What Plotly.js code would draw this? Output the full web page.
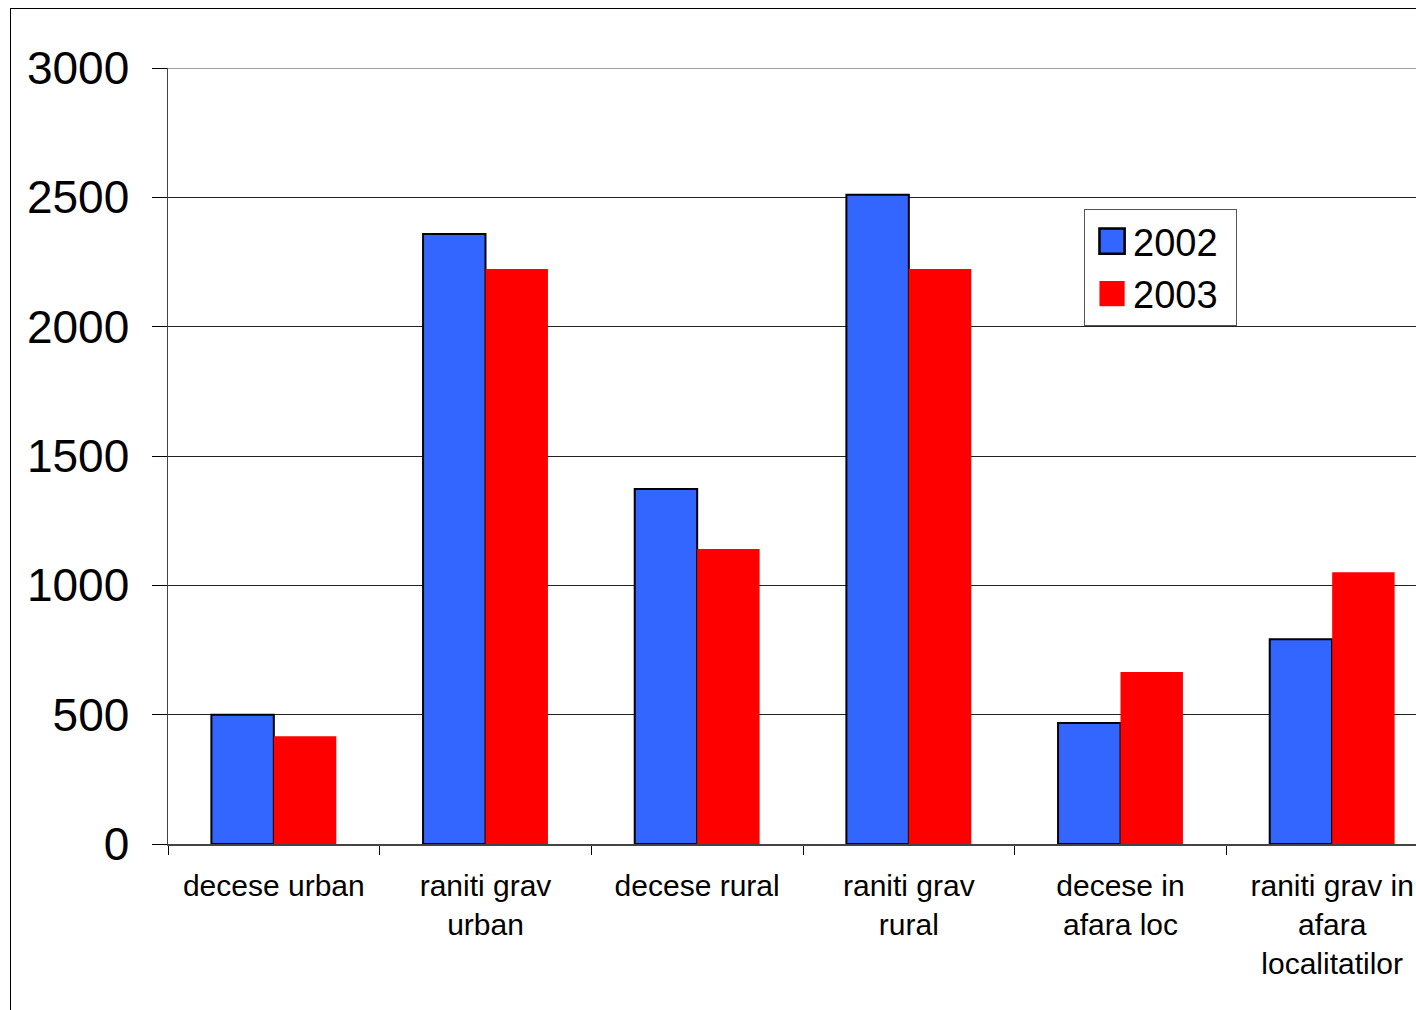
<!DOCTYPE html>
<html>
<head>
<meta charset="utf-8">
<script src="https://cdn.plot.ly/plotly-3.0.1.min.js"></script>
<style>
html,body{margin:0;padding:0;width:1416px;height:1010px;overflow:hidden;background:#fff;}
#frame{position:absolute;left:10px;top:8px;width:1500px;height:1100px;border-left:1.5px solid #000;border-top:1.5px solid #000;pointer-events:none;}
#chart{position:absolute;left:0;top:0;}
</style>
</head>
<body>
<div id="chart"></div>
<div id="frame"></div>
<script>
const categories = [
  "decese urban",
  "raniti grav<br>urban",
  "decese rural",
  "raniti grav<br>rural",
  "decese in<br>afara loc",
  "raniti grav in<br>afara<br>localitatilor"
];
const series2002 = [500, 2358, 1372, 2510, 468, 792];
const series2003 = [417, 2223, 1140, 2223, 665, 1051];
const seriesNames = ["2002", "2003"];
const yTicks = [0, 500, 1000, 1500, 2000, 2500, 3000];

const font = "Liberation Sans, Arial, sans-serif";

const traces = [
  {
    type: "bar", name: seriesNames[0], x: categories, y: series2002,
    marker: {color: "#3366FF", line: {color: "#000000", width: 2}}
  },
  {
    type: "bar", name: seriesNames[1], x: categories, y: series2003,
    marker: {color: "#FF0000", line: {color: "#FF0000", width: 0}}
  }
];

const yMax = yTicks[yTicks.length - 1];

const layout = {
  width: 1450, height: 1010,
  margin: {l: 168, r: 12, t: 68, b: 166},
  paper_bgcolor: "#ffffff", plot_bgcolor: "#ffffff",
  font: {family: font, color: "#000"},
  barmode: "group", bargap: 0.41, bargroupgap: 0,
  showlegend: true,
  legend: {
    x: 0.7213, y: 0.8183, xanchor: "left", yanchor: "top",
    bgcolor: "#ffffff", bordercolor: "#555", borderwidth: 1,
    font: {family: font, size: 38, color: "#000"},
    tracegroupgap: 0, itemwidth: 38
  },
  xaxis: {
    type: "category", range: [-0.5, 5.5],
    tickson: "boundaries", ticks: "outside", ticklen: 9, tickcolor: "#000", tickwidth: 1,
    showline: true, linecolor: "#444", linewidth: 1.5,
    showgrid: false, zeroline: false,
    tickfont: {family: font, size: 30, color: "#000"},
    ticklabelstandoff: 14,
    fixedrange: true
  },
  yaxis: {
    range: [0, yMax], tickvals: yTicks, ticktext: yTicks.map(String),
    ticks: "outside", ticklen: 15, tickcolor: "#000", tickwidth: 1,
    showline: true, linecolor: "#444", linewidth: 1.5,
    showgrid: true, gridcolor: "#222", gridwidth: 1,
    zeroline: false,
    tickfont: {family: font, size: 46, color: "#000"},
    ticklabelstandoff: 13,
    fixedrange: true
  },
  shapes: [{
    type: "line", xref: "paper", yref: "y", x0: 0, x1: 1, y0: yMax, y1: yMax,
    line: {color: "#808080", width: 1.5}, layer: "above"
  }]
};

Plotly.newPlot("chart", traces, layout, {displayModeBar: false, staticPlot: true}).then(function(gd){
  gd.querySelectorAll(".legend .legendpoints path").forEach(function(p){
    var t = p.getAttribute("transform") || "";
    p.setAttribute("transform", t + " translate(3,0) scale(2.1)");
    if (parseFloat(p.style.strokeWidth) > 0) p.style.strokeWidth = "1.2px";
  });
  var bg = gd.querySelector(".legend rect.bg");
  if (bg) {
    var w = parseFloat(bg.getAttribute("width"));
    if (w < 152) bg.setAttribute("width", 152);
  }
});
</script>
</body>
</html>
